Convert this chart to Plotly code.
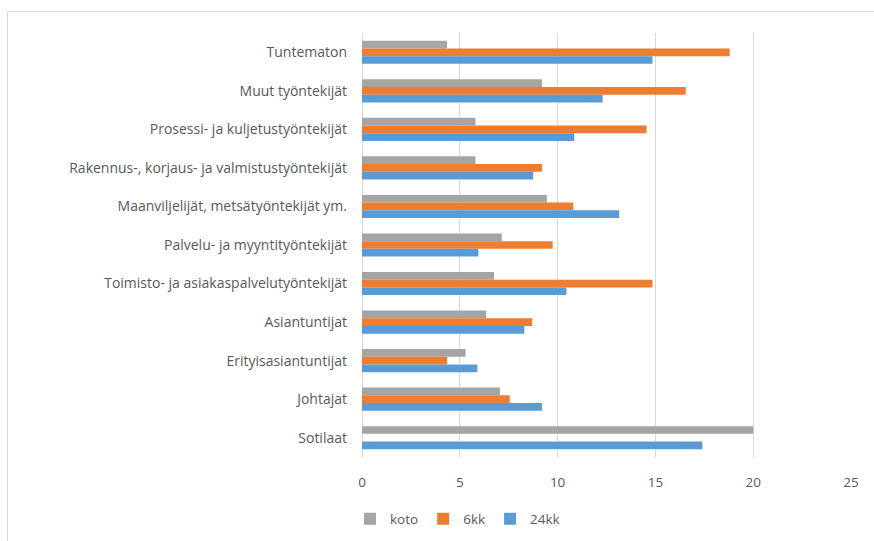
import plotly.graph_objects as go

# Occupational groups, listed from top to bottom
categories = [
    "Tuntematon",
    "Muut työntekijät",
    "Prosessi- ja kuljetustyöntekijät",
    "Rakennus-, korjaus- ja valmistustyöntekijät",
    "Maanviljelijät, metsätyöntekijät ym.",
    "Palvelu- ja myyntityöntekijät",
    "Toimisto- ja asiakaspalvelutyöntekijät",
    "Asiantuntijat",
    "Erityisasiantuntijat",
    "Johtajat",
    "Sotilaat",
]

koto = [4.35, 9.2, 5.8, 5.8, 9.45, 7.15, 6.75, 6.35, 5.3, 7.05, 20.0]
kk6 = [18.8, 16.55, 14.55, 9.2, 10.8, 9.75, 14.85, 8.7, 4.35, 7.55, None]
kk24 = [14.85, 12.3, 10.85, 8.75, 13.15, 5.95, 10.45, 8.3, 5.9, 9.2, 17.4]

x_ticks = [0, 5, 10, 15, 20, 25]

series = [
    ("koto", koto, "#A5A5A5"),
    ("6kk", kk6, "#ED7D31"),
    ("24kk", kk24, "#5B9BD5"),
]

fig = go.Figure()
for name, vals, color in series:
    fig.add_trace(go.Bar(
        name=name, y=categories, x=vals, orientation="h",
        marker=dict(color=color, line=dict(width=0)),
    ))

L, R, T, B = 362, 23, 33, 84
W, H = 874, 541
pw, ph = W - L - R, H - T - B

def px_x(p):
    return (p - L) / pw

def px_y(p):
    return (H - B - p) / ph

label_font = dict(family="Open Sans, Liberation Sans, sans-serif", size=14, color="#595959")
num_font = dict(family="Open Sans, Liberation Sans, sans-serif", size=13.5, color="#595959")

fig.update_layout(
    width=W, height=H,
    margin=dict(l=L, r=R, t=T, b=B),
    paper_bgcolor="white", plot_bgcolor="white",
    barmode="group", bargap=0.4, bargroupgap=0,
    xaxis=dict(
        range=[0, 25], tickvals=x_ticks, showgrid=True, gridcolor="#D9D9D9",
        gridwidth=1, zeroline=True, zerolinecolor="#D9D9D9", zerolinewidth=1,
        showline=False, tickfont=num_font, ticklabelstandoff=15, fixedrange=True,
        automargin=False,
    ),
    yaxis=dict(
        autorange="reversed", showgrid=False, zeroline=False, showline=False,
        tickfont=label_font, ticklabelstandoff=14, fixedrange=True,
        automargin=False,
    ),
    legend=dict(
        orientation="h", xref="container", yref="container",
        x=350 / W, xanchor="left", y=1 - 519 / H, yanchor="middle",
        font=num_font, itemwidth=30, tracegroupgap=0,
    ),
    shapes=[
        dict(type="rect", xref="paper", yref="paper",
             x0=px_x(7.5), x1=px_x(W + 20), y0=px_y(H + 20), y1=px_y(11.5),
             line=dict(color="#D9D9D9", width=1), fillcolor="rgba(0,0,0,0)",
             layer="below"),
    ],
    showlegend=True,
)

fig.write_html("out.html")
